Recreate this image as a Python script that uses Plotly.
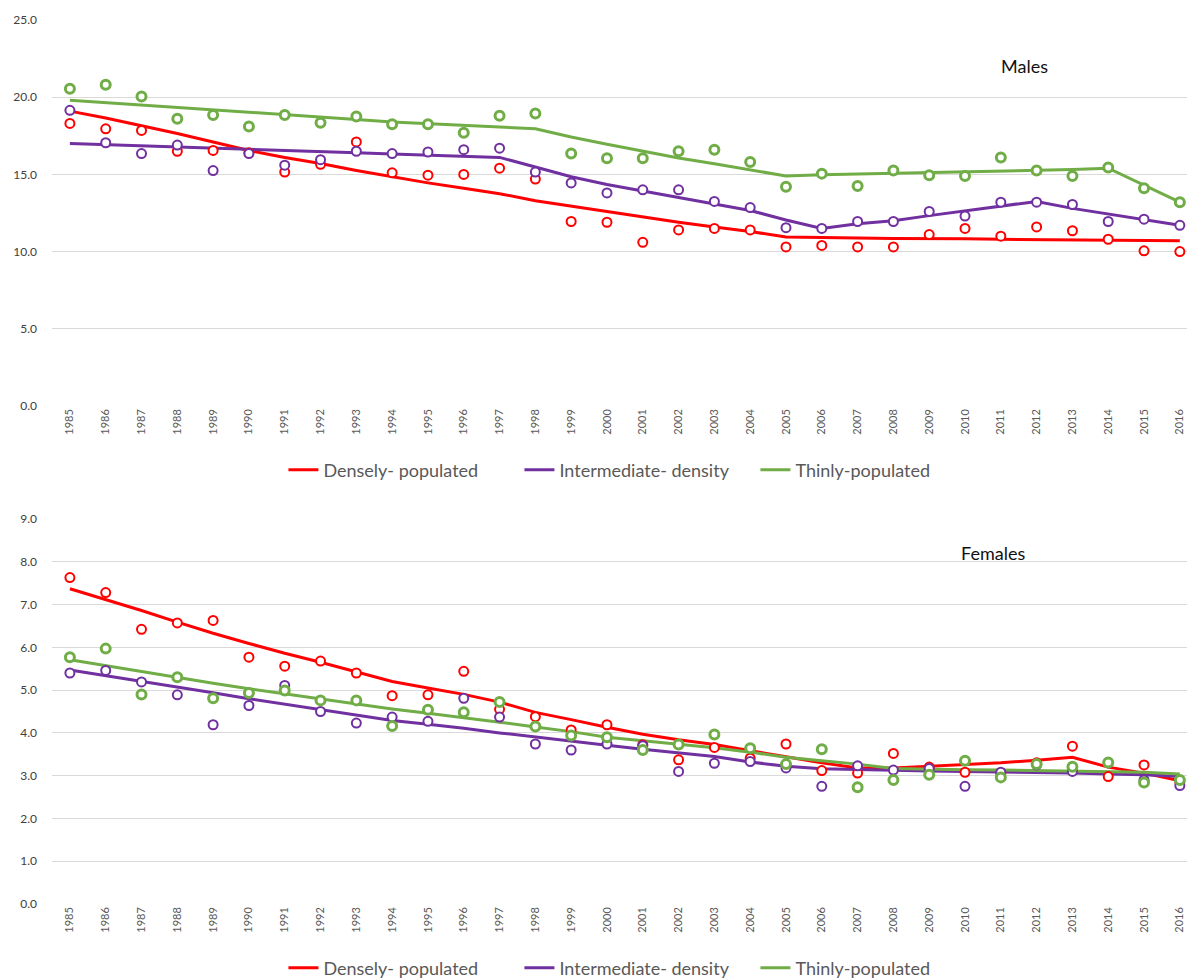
import plotly.graph_objects as go

years = list(range(1985, 2017))
year_labels = [str(y) for y in years]
series_names = ["Densely- populated", "Intermediate- density", "Thinly-populated"]
colors = ["#FF0000", "#7030A0", "#70AD47"]

# ---- Males: observed rates ----
m_dense = [18.3, 17.95, 17.85, 16.5, 16.55, 16.4, 15.15, 15.65, 17.1, 15.1, 14.95, 15.0,
           15.4, 14.7, 11.95, 11.9, 10.6, 11.4, 11.5, 11.4, 10.3, 10.4, 10.3, 10.3,
           11.1, 11.5, 11.0, 11.6, 11.35, 10.8, 10.05, 10.0]
m_inter = [19.15, 17.05, 16.35, 16.9, 15.25, 16.35, 15.6, 15.95, 16.5, 16.35, 16.45, 16.6,
           16.7, 15.15, 14.45, 13.8, 14.0, 14.0, 13.25, 12.85, 11.55, 11.5, 11.95, 11.95,
           12.6, 12.3, 13.2, 13.2, 13.05, 11.95, 12.1, 11.7]
m_thin = [20.55, 20.8, 20.05, 18.6, 18.85, 18.1, 18.85, 18.35, 18.75, 18.25, 18.25, 17.7,
          18.8, 18.95, 16.35, 16.05, 16.05, 16.5, 16.6, 15.8, 14.2, 15.05, 14.25, 15.25,
          14.95, 14.9, 16.1, 15.25, 14.9, 15.45, 14.1, 13.2]
# ---- Males: fitted trends ----
m_dense_fit = [19.1, 18.65, 18.15, 17.65, 17.1, 16.55, 16.1, 15.7, 15.25, 14.85, 14.45, 14.1,
               13.75, 13.3, 12.95, 12.6, 12.25, 11.9, 11.6, 11.3, 10.95, 10.9, 10.88, 10.85,
               10.85, 10.83, 10.8, 10.78, 10.77, 10.76, 10.74, 10.7]
m_inter_fit = [17.0, 16.93, 16.85, 16.78, 16.7, 16.62, 16.55, 16.47, 16.4, 16.32, 16.25, 16.17,
               16.1, 15.48, 14.85, 14.35, 13.92, 13.53, 13.1, 12.66, 12.05, 11.5, 11.8, 12.0,
               12.33, 12.65, 12.95, 13.25, 12.8, 12.42, 12.06, 11.7]
m_thin_fit = [19.8, 19.65, 19.5, 19.34, 19.18, 19.03, 18.87, 18.71, 18.56, 18.4, 18.3, 18.18,
              18.07, 17.95, 17.42, 16.95, 16.49, 16.06, 15.69, 15.3, 14.9, 14.97, 15.02, 15.08,
              15.12, 15.16, 15.2, 15.26, 15.32, 15.4, 14.3, 13.2]

# ---- Females: observed rates ----
f_dense = [7.63, 7.28, 6.42, 6.57, 6.63, 5.77, 5.56, 5.68, 5.4, 4.87, 4.89, 5.44,
           4.55, 4.38, 4.07, 4.19, 3.72, 3.37, 3.66, 3.41, 3.74, 3.12, 3.06, 3.52,
           3.2, 3.08, 3.05, 3.3, 3.69, 2.98, 3.25, 2.85]
f_inter = [5.4, 5.46, 5.19, 4.89, 4.19, 4.64, 5.11, 4.5, 4.23, 4.37, 4.27, 4.81,
           4.37, 3.74, 3.6, 3.74, 3.7, 3.1, 3.29, 3.33, 3.18, 2.75, 3.23, 3.13,
           3.17, 2.75, 3.08, 3.25, 3.1, 3.3, 2.9, 2.77]
f_thin = [5.77, 5.97, 4.9, 5.3, 4.81, 4.93, 4.99, 4.76, 4.76, 4.16, 4.54, 4.48,
          4.72, 4.15, 3.94, 3.9, 3.6, 3.73, 3.96, 3.64, 3.27, 3.62, 2.73, 2.9,
          3.02, 3.35, 2.96, 3.27, 3.21, 3.31, 2.84, 2.9]
# ---- Females: fitted trends ----
f_dense_fit = [7.37, 7.12, 6.86, 6.59, 6.33, 6.09, 5.86, 5.65, 5.42, 5.2, 5.05, 4.9,
               4.72, 4.48, 4.31, 4.13, 3.97, 3.84, 3.73, 3.58, 3.44, 3.3, 3.18, 3.18,
               3.22, 3.26, 3.3, 3.36, 3.43, 3.2, 3.06, 2.88]
f_inter_fit = [5.47, 5.34, 5.2, 5.07, 4.94, 4.8, 4.67, 4.54, 4.41, 4.29, 4.2, 4.11,
               4.0, 3.9, 3.81, 3.71, 3.62, 3.53, 3.45, 3.32, 3.22, 3.16, 3.14, 3.12,
               3.11, 3.1, 3.09, 3.08, 3.06, 3.04, 3.02, 2.98]
f_thin_fit = [5.71, 5.57, 5.43, 5.3, 5.16, 5.03, 4.91, 4.79, 4.67, 4.56, 4.46, 4.36,
              4.25, 4.14, 4.03, 3.9, 3.82, 3.74, 3.65, 3.55, 3.43, 3.35, 3.27, 3.17,
              3.15, 3.14, 3.13, 3.12, 3.11, 3.1, 3.08, 3.04]

panels = [
    dict(obs=[m_dense, m_inter, m_thin], fit=[m_dense_fit, m_inter_fit, m_thin_fit],
         xa="x", ya="y", legend="legend"),
    dict(obs=[f_dense, f_inter, f_thin], fit=[f_dense_fit, f_inter_fit, f_thin_fit],
         xa="x2", ya="y2", legend="legend2"),
]

fig = go.Figure()
for p in panels:
    for i in range(3):
        fig.add_trace(go.Scatter(
            x=years, y=p["fit"][i], mode="lines", name=series_names[i],
            line=dict(color=colors[i], width=3), xaxis=p["xa"], yaxis=p["ya"],
            legend=p["legend"], showlegend=True, hoverinfo="skip"))
    for i in range(3):
        fig.add_trace(go.Scatter(
            x=years, y=p["obs"][i], mode="markers", name=series_names[i],
            marker=dict(symbol="circle", size=9, color="white",
                        line=dict(color=colors[i], width=3 if i == 2 else 2)),
            xaxis=p["xa"], yaxis=p["ya"], showlegend=False))

W, H = 1187, 978
x_dom = [52 / W, 1.0]
FONT = "Lato, Open Sans, sans-serif"
xcommon = dict(range=[1984.5, 2016.2], tickmode="array", tickvals=years, ticktext=year_labels,
               tickangle=-90, tickfont=dict(family=FONT, size=11, color="#595959"),
               showgrid=False, zeroline=False, showline=False, ticks="", fixedrange=True,
               automargin=False)
ycommon = dict(showgrid=True, gridcolor="#D9D9D9", gridwidth=1, zeroline=False, showline=False,
               tickformat=".1f", ticks="", ticklabelstandoff=14, automargin=False,
               tickfont=dict(family=FONT, size=12, color="#404040"))

legend_font = dict(family=FONT, size=18, color="#595959")
legend_common = dict(orientation="h", x=0.537, xanchor="center", yanchor="middle",
                     font=legend_font, itemwidth=30, entrywidth=191, entrywidthmode="pixels",
                     bgcolor="rgba(0,0,0,0)")

fig.update_layout(
    width=W, height=H, margin=dict(l=0, r=0, t=0, b=0, autoexpand=False),
    paper_bgcolor="white", plot_bgcolor="white",
    xaxis=dict(domain=x_dom, anchor="y", **xcommon),
    yaxis=dict(domain=[1 - 406 / H, 1 - 20 / H], anchor="x", range=[0, 25], dtick=5, **ycommon),
    xaxis2=dict(domain=x_dom, anchor="y2", **xcommon),
    yaxis2=dict(domain=[1 - 904 / H, 1 - 519 / H], anchor="x2", range=[0, 9], dtick=1, **ycommon),
    legend=dict(y=1 - 470 / H, **legend_common),
    legend2=dict(y=1 - 968 / H, **legend_common),
    annotations=[
        dict(text="Males", x=1050 / W, y=1 - 53 / H, xref="paper", yref="paper",
             showarrow=False, font=dict(family=FONT, size=18, color="#111111")),
        dict(text="Females", x=1027 / W, y=1 - 553 / H, xref="paper", yref="paper",
             showarrow=False, font=dict(family=FONT, size=18, color="#111111")),
    ],
)

fig.write_html(
    "out.html",
    config={"displayModeBar": False},
    post_script="document.body.style.margin='0';document.body.style.padding='0';"
                "document.body.style.overflow='hidden';",
)
